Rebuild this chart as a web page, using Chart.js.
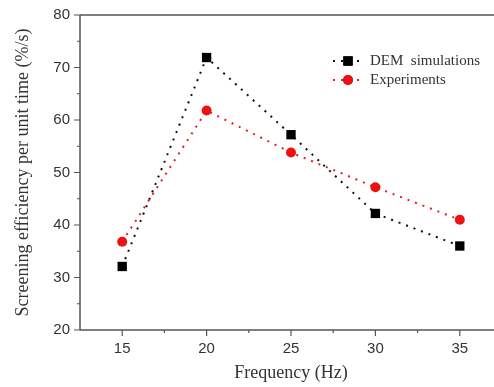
<!DOCTYPE html>
<html><head><meta charset="utf-8">
<script src="https://cdn.jsdelivr.net/npm/chart.js@4"></script>
<style>html,body{margin:0;padding:0;background:#fff;overflow:hidden}#wrap{width:510px;height:387px;position:relative}</style>
</head><body><div id="wrap"><canvas id="c"></canvas></div>
<script>
const frequencies = [15, 20, 25, 30, 35];
const demValues = [32.1, 71.9, 57.2, 42.2, 36.0];
const expValues = [36.8, 61.8, 53.8, 47.2, 41.0];
const xTickValues = [15, 20, 25, 30, 35];
const xMinorTicks = [17.5, 22.5, 27.5, 32.5];
const yTickValues = [20, 30, 40, 50, 60, 70, 80];
const yMinorTicks = [25, 35, 45, 55, 65, 75];
const seriesNames = ['DEM  simulations', 'Experiments'];

const AXIS = '#555';
const serif = '"Liberation Serif", "Times New Roman", serif';
const sans = '"Liberation Sans", Arial, sans-serif';

const frame = {
  id: 'frame',
  afterDatasetsDraw(chart) {
    const {ctx, chartArea: a, scales: {x, y}} = chart;
    ctx.save();
    ctx.strokeStyle = AXIS;
    ctx.lineWidth = 1.5;
    ctx.beginPath();
    ctx.moveTo(a.left, a.top); ctx.lineTo(a.right, a.top);
    ctx.moveTo(a.left, a.top); ctx.lineTo(a.left, a.bottom);
    ctx.moveTo(a.left, a.bottom); ctx.lineTo(a.right, a.bottom);
    ctx.stroke();
    ctx.lineWidth = 1.2;
    ctx.beginPath();
    xTickValues.forEach(v => { const p = x.getPixelForValue(v); ctx.moveTo(p, a.bottom); ctx.lineTo(p, a.bottom + 6); });
    xMinorTicks.forEach(v => { const p = x.getPixelForValue(v); ctx.moveTo(p, a.bottom); ctx.lineTo(p, a.bottom + 3); });
    yTickValues.forEach(v => { const p = y.getPixelForValue(v); ctx.moveTo(a.left, p); ctx.lineTo(a.left - 6, p); });
    yMinorTicks.forEach(v => { const p = y.getPixelForValue(v); ctx.moveTo(a.left, p); ctx.lineTo(a.left - 3, p); });
    ctx.stroke();
    // legend
    const lx = 333, ly = [61, 80];
    chart.data.datasets.forEach((ds, i) => {
      const yy = ly[i];
      ctx.save();
      ctx.strokeStyle = ds.borderColor;
      ctx.lineWidth = ds.borderWidth;
      ctx.setLineDash(ds.borderDash);
      ctx.beginPath(); ctx.moveTo(lx, yy); ctx.lineTo(lx + 28, yy); ctx.stroke();
      ctx.restore();
      ctx.fillStyle = ds.pointBackgroundColor;
      Chart.helpers.drawPoint(ctx, {pointStyle: ds.pointStyle, radius: ds.pointRadius, borderWidth: 0}, lx + 15, yy);
      ctx.fill();
      ctx.fillStyle = '#333';
      ctx.font = '15px ' + serif;
      ctx.textBaseline = 'middle';
      ctx.textAlign = 'left';
      ctx.fillText(ds.label, 370, yy);
    });
    ctx.restore();
  }
};

new Chart(document.getElementById('c'), {
  type: 'line',
  data: {
    datasets: [
      {
        label: seriesNames[0],
        data: frequencies.map((f, i) => ({x: f, y: demValues[i]})),
        borderColor: '#111', borderWidth: 2, borderDash: [2, 6],
        pointStyle: 'rect', pointRadius: 6.6, pointBackgroundColor: '#000', pointBorderWidth: 0,
        tension: 0
      },
      {
        label: seriesNames[1],
        data: frequencies.map((f, i) => ({x: f, y: expValues[i]})),
        borderColor: '#e02020', borderWidth: 2, borderDash: [2, 6],
        pointStyle: 'circle', pointRadius: 5, pointBackgroundColor: '#ee1111', pointBorderWidth: 0,
        tension: 0
      }
    ]
  },
  options: {
    responsive: true, maintainAspectRatio: false, animation: false,
    layout: {padding: {top: 15, right: 8, left: 0, bottom: 0}},
    plugins: {legend: {display: false}, tooltip: {enabled: false}},
    scales: {
      x: {
        type: 'linear', min: 12.5, max: 37.5,
        afterBuildTicks: s => { s.ticks = xTickValues.map(v => ({value: v})); },
        afterFit: s => { s.height = 57; },
        grid: {display: false}, border: {display: false},
        ticks: {color: '#333', font: {family: sans, size: 15}, padding: 2, maxRotation: 0},
        title: {display: true, text: 'Frequency (Hz)', color: '#333', font: {family: serif, size: 18}, padding: {top: 3, bottom: 3}}
      },
      y: {
        min: 20, max: 80,
        afterBuildTicks: s => { s.ticks = yTickValues.map(v => ({value: v})); },
        afterFit: s => { s.width = 80; },
        grid: {display: false}, border: {display: false},
        ticks: {color: '#333', font: {family: sans, size: 15}, padding: 2},
        title: {display: true, text: 'Screening efficiency per unit time (%/s)', color: '#333', font: {family: serif, size: 18}, padding: {top: 12, bottom: 12}}
      }
    }
  },
  plugins: [frame]
});
</script>
</body></html>
